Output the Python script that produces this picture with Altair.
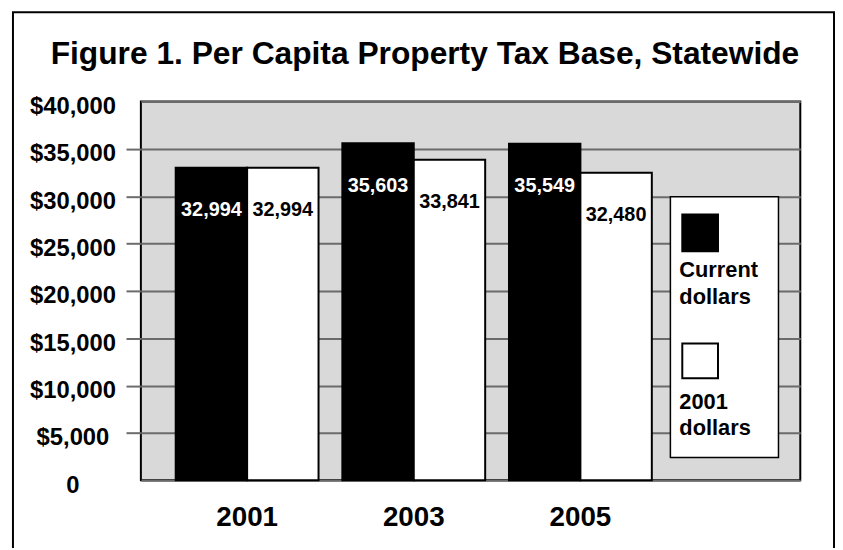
import altair as alt
import pandas as pd

# ---- data ----
years = ["2001", "2003", "2005"]
series = ["Current dollars", "2001 dollars"]
current_dollars = [32994, 35603, 35549]
constant_2001_dollars = [32994, 33841, 32480]
y_ticks = [0, 5000, 10000, 15000, 20000, 25000, 30000, 35000, 40000]
title_text = "Figure 1. Per Capita Property Tax Base, Statewide"
legend_text = ["Current\ndollars", "2001\ndollars"]

rows = []
for i, yr in enumerate(years):
    rows.append({"year": yr, "series": series[0], "value": current_dollars[i]})
    rows.append({"year": yr, "series": series[1], "value": constant_2001_dollars[i]})
df = pd.DataFrame(rows)

FONT = "Liberation Sans"
W, H = 665, 382
GRID = "#6b6b6b"

x_enc = alt.X(
    "year:N",
    sort=years,
    scale=alt.Scale(domain=years, paddingInner=0.142857, paddingOuter=0.55, align=0.19),
    axis=alt.Axis(
        title=None, labelAngle=0, labelFont=FONT, labelFontSize=28, labelFontWeight="bold",
        labelColor="black", ticks=False, tickSize=0, domain=False, labelPadding=38,
        labelBaseline="middle", grid=False,
    ),
)
xoff_enc = alt.XOffset("series:N", sort=series,
                       scale=alt.Scale(domain=series, paddingInner=0, paddingOuter=0))
y_enc = alt.Y(
    "value:Q",
    scale=alt.Scale(domain=[0, 40000], nice=False, zero=True),
    axis=alt.Axis(
        title=None, values=y_ticks,
        labelExpr="datum.value == 0 ? '0' : '$' + format(datum.value, ',')",
        labelFont=FONT, labelFontSize=24, labelFontWeight="bold", labelColor="black",
        labelAlign="center", labelBaseline="middle", labelPadding=54, labelOffset=5,
        labelFlush=False, labelOverlap=False,
        tickSize=15, tickWidth=2,
        tickColor={"condition": {"test": "datum.value == 0 || datum.value == 40000",
                                 "value": "transparent"}, "value": GRID},
        grid=True, gridColor=GRID, gridWidth=2, domain=False,
    ),
)

one = alt.Data(values=[{}])

frame = alt.Chart(one).mark_rect(fill=None, stroke="black", strokeWidth=2).encode(
    x=alt.value(-129), x2=alt.value(699), y=alt.value(-90), y2=alt.value(470)
)

title = alt.Chart(one).mark_text(
    font=FONT, fontSize=32, fontWeight="bold", color="black", align="center", baseline="middle"
).encode(x=alt.value(286.5), y=alt.value(-48), text=alt.value(title_text))

bars = alt.Chart(df).mark_bar(stroke="black", strokeWidth=2).encode(
    x=x_enc, xOffset=xoff_enc, y=y_enc,
    fill=alt.Fill("series:N", scale=alt.Scale(domain=series, range=["black", "white"]), legend=None),
)

labels = alt.Chart(df).mark_text(
    font=FONT, fontSize=20, fontWeight="bold", baseline="middle", dy=43
).encode(
    x=x_enc, xOffset=xoff_enc, y=y_enc,
    text=alt.Text("value:Q", format=","),
    color=alt.Color("series:N", scale=alt.Scale(domain=series, range=["white", "black"]), legend=None),
)

# manual legend (inside the plot, as in the original)
leg_box = alt.Chart(one).mark_rect(fill="white", stroke="black", strokeWidth=1.5).encode(
    x=alt.value(534), x2=alt.value(643), y=alt.value(96), y2=alt.value(359)
)
leg_sq1 = alt.Chart(one).mark_rect(fill="black", stroke="black", strokeWidth=2).encode(
    x=alt.value(546), x2=alt.value(582), y=alt.value(114), y2=alt.value(151)
)
leg_sq2 = alt.Chart(one).mark_rect(fill="white", stroke="black", strokeWidth=2).encode(
    x=alt.value(546), x2=alt.value(582), y=alt.value(244), y2=alt.value(279)
)
leg_t1 = alt.Chart(one).mark_text(
    font=FONT, fontSize=22, fontWeight="bold", color="black", align="left",
    baseline="middle", lineBreak="\n", lineHeight=27,
).encode(x=alt.value(543), y=alt.value(170), text=alt.value(legend_text[0]))
leg_t2 = alt.Chart(one).mark_text(
    font=FONT, fontSize=22, fontWeight="bold", color="black", align="left",
    baseline="middle", lineBreak="\n", lineHeight=26,
).encode(x=alt.value(543), y=alt.value(303), text=alt.value(legend_text[1]))

chart = alt.layer(
    frame, title, bars, labels, leg_box, leg_sq1, leg_sq2, leg_t1, leg_t2
).properties(
    width=W, height=H,
    autosize=alt.AutoSizeParams(type="none"),
    padding={"left": 134, "top": 92, "right": 35, "bottom": 66},
    background="white",
).configure_view(
    fill="#d9d9d9", stroke="black", strokeWidth=2
)

chart.save("out.html", embed_options={"renderer": "svg", "actions": False})
